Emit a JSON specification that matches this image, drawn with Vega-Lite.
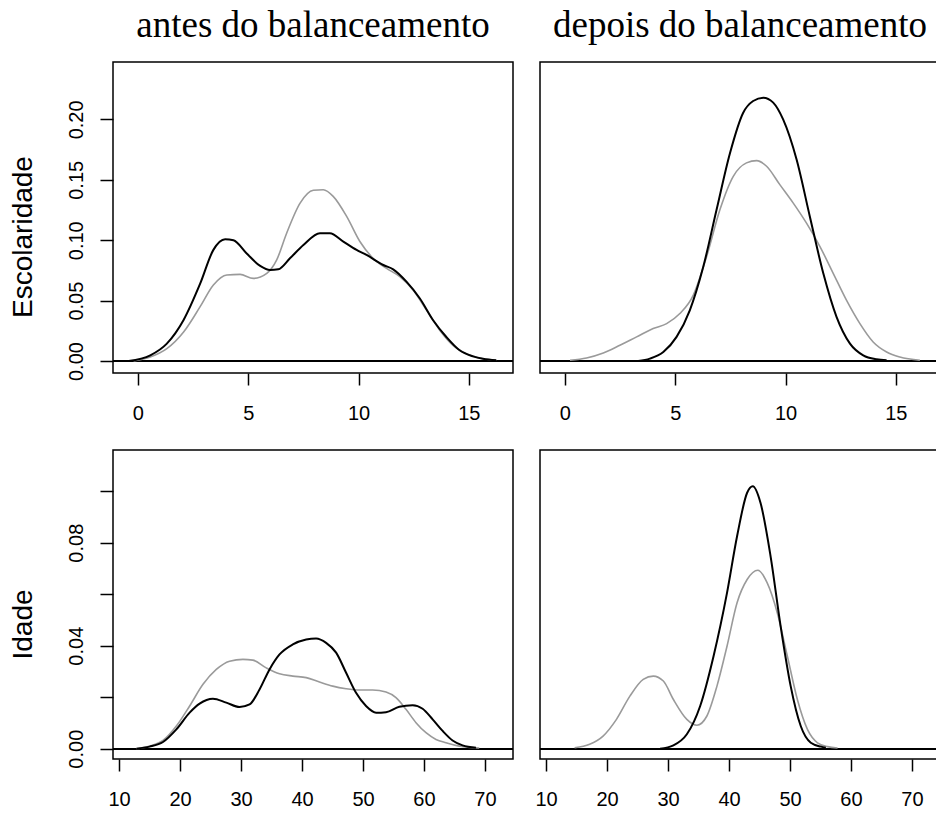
{
  "$schema": "https://vega.github.io/schema/vega-lite/v6.json",
  "padding": {"left": 8, "top": 6, "right": -5, "bottom": 0},
  "background": "white",
  "config": {
    "view": {"stroke": "black", "strokeWidth": 1.5},
    "axis": {"domain": false, "grid": false, "tickColor": "black", "tickWidth": 1.5, "tickSize": 12,
      "labelFont": "Liberation Sans", "labelFontSize": 20, "labelColor": "black", "labelOverlap": false, "labelFlush": false,
      "titleFont": "Liberation Sans", "titleFontWeight": "normal", "titleFontSize": 28, "titleColor": "black"},
    "title": {"font": "Liberation Serif", "fontSize": 37, "fontWeight": "normal", "color": "black"}
  },
  "datasets": {
    "d": [
      {"p": "esc_antes", "g": "tratados", "x": -0.42, "y": 0},
      {"p": "esc_antes", "g": "tratados", "x": 0.56, "y": 0.0047},
      {"p": "esc_antes", "g": "tratados", "x": 1.31, "y": 0.0144},
      {"p": "esc_antes", "g": "tratados", "x": 2.07, "y": 0.034},
      {"p": "esc_antes", "g": "tratados", "x": 2.82, "y": 0.064},
      {"p": "esc_antes", "g": "tratados", "x": 3.42, "y": 0.092},
      {"p": "esc_antes", "g": "tratados", "x": 3.95, "y": 0.1008},
      {"p": "esc_antes", "g": "tratados", "x": 4.33, "y": 0.1},
      {"p": "esc_antes", "g": "tratados", "x": 4.93, "y": 0.089},
      {"p": "esc_antes", "g": "tratados", "x": 5.54, "y": 0.0787},
      {"p": "esc_antes", "g": "tratados", "x": 5.99, "y": 0.0753},
      {"p": "esc_antes", "g": "tratados", "x": 6.36, "y": 0.0759},
      {"p": "esc_antes", "g": "tratados", "x": 6.89, "y": 0.085},
      {"p": "esc_antes", "g": "tratados", "x": 7.5, "y": 0.096},
      {"p": "esc_antes", "g": "tratados", "x": 8.25, "y": 0.1058},
      {"p": "esc_antes", "g": "tratados", "x": 8.7, "y": 0.1058},
      {"p": "esc_antes", "g": "tratados", "x": 9.31, "y": 0.0989},
      {"p": "esc_antes", "g": "tratados", "x": 9.91, "y": 0.092},
      {"p": "esc_antes", "g": "tratados", "x": 10.36, "y": 0.0878},
      {"p": "esc_antes", "g": "tratados", "x": 11.12, "y": 0.0795},
      {"p": "esc_antes", "g": "tratados", "x": 11.57, "y": 0.0759},
      {"p": "esc_antes", "g": "tratados", "x": 12.17, "y": 0.0657},
      {"p": "esc_antes", "g": "tratados", "x": 12.78, "y": 0.0518},
      {"p": "esc_antes", "g": "tratados", "x": 13.38, "y": 0.0338},
      {"p": "esc_antes", "g": "tratados", "x": 13.98, "y": 0.0199},
      {"p": "esc_antes", "g": "tratados", "x": 14.58, "y": 0.0089},
      {"p": "esc_antes", "g": "tratados", "x": 15.19, "y": 0.0039},
      {"p": "esc_antes", "g": "tratados", "x": 15.64, "y": 0.0019},
      {"p": "esc_antes", "g": "tratados", "x": 16.24, "y": 0.0006},

      {"p": "esc_antes", "g": "controles", "x": -0.2, "y": 0},
      {"p": "esc_antes", "g": "controles", "x": 0.56, "y": 0.0033},
      {"p": "esc_antes", "g": "controles", "x": 1.31, "y": 0.0102},
      {"p": "esc_antes", "g": "controles", "x": 2.07, "y": 0.024},
      {"p": "esc_antes", "g": "controles", "x": 2.82, "y": 0.045},
      {"p": "esc_antes", "g": "controles", "x": 3.42, "y": 0.0629},
      {"p": "esc_antes", "g": "controles", "x": 4.03, "y": 0.0712},
      {"p": "esc_antes", "g": "controles", "x": 4.63, "y": 0.0717},
      {"p": "esc_antes", "g": "controles", "x": 5.23, "y": 0.0684},
      {"p": "esc_antes", "g": "controles", "x": 5.84, "y": 0.0726},
      {"p": "esc_antes", "g": "controles", "x": 6.29, "y": 0.0837},
      {"p": "esc_antes", "g": "controles", "x": 6.74, "y": 0.1058},
      {"p": "esc_antes", "g": "controles", "x": 7.35, "y": 0.1307},
      {"p": "esc_antes", "g": "controles", "x": 7.95, "y": 0.1413},
      {"p": "esc_antes", "g": "controles", "x": 8.4, "y": 0.1418},
      {"p": "esc_antes", "g": "controles", "x": 8.85, "y": 0.1363},
      {"p": "esc_antes", "g": "controles", "x": 9.46, "y": 0.1197},
      {"p": "esc_antes", "g": "controles", "x": 10.06, "y": 0.0989},
      {"p": "esc_antes", "g": "controles", "x": 10.66, "y": 0.085},
      {"p": "esc_antes", "g": "controles", "x": 11.27, "y": 0.0767},
      {"p": "esc_antes", "g": "controles", "x": 11.87, "y": 0.0698},
      {"p": "esc_antes", "g": "controles", "x": 12.47, "y": 0.0587},
      {"p": "esc_antes", "g": "controles", "x": 13.08, "y": 0.0421},
      {"p": "esc_antes", "g": "controles", "x": 13.68, "y": 0.0255},
      {"p": "esc_antes", "g": "controles", "x": 14.28, "y": 0.013},
      {"p": "esc_antes", "g": "controles", "x": 14.89, "y": 0.0061},
      {"p": "esc_antes", "g": "controles", "x": 15.49, "y": 0.0025},
      {"p": "esc_antes", "g": "controles", "x": 16.24, "y": 0.0006},

      {"p": "esc_depois", "g": "tratados", "x": 3.32, "y": 0},
      {"p": "esc_depois", "g": "tratados", "x": 3.85, "y": 0.002},
      {"p": "esc_depois", "g": "tratados", "x": 4.46, "y": 0.0075},
      {"p": "esc_depois", "g": "tratados", "x": 5.06, "y": 0.02},
      {"p": "esc_depois", "g": "tratados", "x": 5.66, "y": 0.042},
      {"p": "esc_depois", "g": "tratados", "x": 6.27, "y": 0.078},
      {"p": "esc_depois", "g": "tratados", "x": 6.87, "y": 0.125},
      {"p": "esc_depois", "g": "tratados", "x": 7.48, "y": 0.172},
      {"p": "esc_depois", "g": "tratados", "x": 8.08, "y": 0.2055},
      {"p": "esc_depois", "g": "tratados", "x": 8.53, "y": 0.2152},
      {"p": "esc_depois", "g": "tratados", "x": 8.99, "y": 0.218},
      {"p": "esc_depois", "g": "tratados", "x": 9.44, "y": 0.2139},
      {"p": "esc_depois", "g": "tratados", "x": 9.89, "y": 0.2},
      {"p": "esc_depois", "g": "tratados", "x": 10.5, "y": 0.1668},
      {"p": "esc_depois", "g": "tratados", "x": 11.1, "y": 0.1197},
      {"p": "esc_depois", "g": "tratados", "x": 11.71, "y": 0.0726},
      {"p": "esc_depois", "g": "tratados", "x": 12.31, "y": 0.0366},
      {"p": "esc_depois", "g": "tratados", "x": 12.92, "y": 0.0144},
      {"p": "esc_depois", "g": "tratados", "x": 13.52, "y": 0.0047},
      {"p": "esc_depois", "g": "tratados", "x": 14.12, "y": 0.0014},
      {"p": "esc_depois", "g": "tratados", "x": 14.58, "y": 0.0006},

      {"p": "esc_depois", "g": "controles", "x": 0.23, "y": 0.0006},
      {"p": "esc_depois", "g": "controles", "x": 0.98, "y": 0.0025},
      {"p": "esc_depois", "g": "controles", "x": 1.74, "y": 0.0066},
      {"p": "esc_depois", "g": "controles", "x": 2.49, "y": 0.013},
      {"p": "esc_depois", "g": "controles", "x": 3.25, "y": 0.02},
      {"p": "esc_depois", "g": "controles", "x": 4.0, "y": 0.0269},
      {"p": "esc_depois", "g": "controles", "x": 4.61, "y": 0.031},
      {"p": "esc_depois", "g": "controles", "x": 5.21, "y": 0.0393},
      {"p": "esc_depois", "g": "controles", "x": 5.82, "y": 0.0546},
      {"p": "esc_depois", "g": "controles", "x": 6.42, "y": 0.0864},
      {"p": "esc_depois", "g": "controles", "x": 7.02, "y": 0.125},
      {"p": "esc_depois", "g": "controles", "x": 7.63, "y": 0.1529},
      {"p": "esc_depois", "g": "controles", "x": 8.23, "y": 0.164},
      {"p": "esc_depois", "g": "controles", "x": 8.69, "y": 0.1659},
      {"p": "esc_depois", "g": "controles", "x": 9.14, "y": 0.1612},
      {"p": "esc_depois", "g": "controles", "x": 9.74, "y": 0.146},
      {"p": "esc_depois", "g": "controles", "x": 10.35, "y": 0.1307},
      {"p": "esc_depois", "g": "controles", "x": 10.95, "y": 0.1141},
      {"p": "esc_depois", "g": "controles", "x": 11.56, "y": 0.0947},
      {"p": "esc_depois", "g": "controles", "x": 12.16, "y": 0.0726},
      {"p": "esc_depois", "g": "controles", "x": 12.76, "y": 0.0504},
      {"p": "esc_depois", "g": "controles", "x": 13.37, "y": 0.031},
      {"p": "esc_depois", "g": "controles", "x": 13.97, "y": 0.0158},
      {"p": "esc_depois", "g": "controles", "x": 14.58, "y": 0.0075},
      {"p": "esc_depois", "g": "controles", "x": 15.18, "y": 0.0033},
      {"p": "esc_depois", "g": "controles", "x": 16.09, "y": 0.0006},

      {"p": "ida_antes", "g": "tratados", "x": 12.84, "y": 0},
      {"p": "ida_antes", "g": "tratados", "x": 15.02, "y": 0.0008},
      {"p": "ida_antes", "g": "tratados", "x": 17.2, "y": 0.0026},
      {"p": "ida_antes", "g": "tratados", "x": 19.39, "y": 0.0075},
      {"p": "ida_antes", "g": "tratados", "x": 21.57, "y": 0.014},
      {"p": "ida_antes", "g": "tratados", "x": 23.21, "y": 0.0175},
      {"p": "ida_antes", "g": "tratados", "x": 25.39, "y": 0.0194},
      {"p": "ida_antes", "g": "tratados", "x": 27.58, "y": 0.0179},
      {"p": "ida_antes", "g": "tratados", "x": 29.76, "y": 0.0162},
      {"p": "ida_antes", "g": "tratados", "x": 31.4, "y": 0.0172},
      {"p": "ida_antes", "g": "tratados", "x": 33.03, "y": 0.023},
      {"p": "ida_antes", "g": "tratados", "x": 34.67, "y": 0.0308},
      {"p": "ida_antes", "g": "tratados", "x": 36.31, "y": 0.0366},
      {"p": "ida_antes", "g": "tratados", "x": 38.49, "y": 0.0405},
      {"p": "ida_antes", "g": "tratados", "x": 40.68, "y": 0.0424},
      {"p": "ida_antes", "g": "tratados", "x": 42.31, "y": 0.0428},
      {"p": "ida_antes", "g": "tratados", "x": 43.95, "y": 0.0411},
      {"p": "ida_antes", "g": "tratados", "x": 45.59, "y": 0.0373},
      {"p": "ida_antes", "g": "tratados", "x": 47.23, "y": 0.0295},
      {"p": "ida_antes", "g": "tratados", "x": 48.86, "y": 0.0217},
      {"p": "ida_antes", "g": "tratados", "x": 50.5, "y": 0.0166},
      {"p": "ida_antes", "g": "tratados", "x": 52.14, "y": 0.014},
      {"p": "ida_antes", "g": "tratados", "x": 53.78, "y": 0.0142},
      {"p": "ida_antes", "g": "tratados", "x": 55.96, "y": 0.0163},
      {"p": "ida_antes", "g": "tratados", "x": 58.14, "y": 0.0169},
      {"p": "ida_antes", "g": "tratados", "x": 59.78, "y": 0.0155},
      {"p": "ida_antes", "g": "tratados", "x": 61.42, "y": 0.0114},
      {"p": "ida_antes", "g": "tratados", "x": 63.06, "y": 0.0069},
      {"p": "ida_antes", "g": "tratados", "x": 64.69, "y": 0.0032},
      {"p": "ida_antes", "g": "tratados", "x": 66.33, "y": 0.0013},
      {"p": "ida_antes", "g": "tratados", "x": 68.52, "y": 0.0004},

      {"p": "ida_antes", "g": "controles", "x": 12.84, "y": 0},
      {"p": "ida_antes", "g": "controles", "x": 15.02, "y": 0.001},
      {"p": "ida_antes", "g": "controles", "x": 17.2, "y": 0.0032},
      {"p": "ida_antes", "g": "controles", "x": 19.39, "y": 0.0088},
      {"p": "ida_antes", "g": "controles", "x": 21.57, "y": 0.0166},
      {"p": "ida_antes", "g": "controles", "x": 23.76, "y": 0.025},
      {"p": "ida_antes", "g": "controles", "x": 25.94, "y": 0.0308},
      {"p": "ida_antes", "g": "controles", "x": 28.12, "y": 0.034},
      {"p": "ida_antes", "g": "controles", "x": 30.31, "y": 0.0347},
      {"p": "ida_antes", "g": "controles", "x": 31.94, "y": 0.0344},
      {"p": "ida_antes", "g": "controles", "x": 34.13, "y": 0.0314},
      {"p": "ida_antes", "g": "controles", "x": 36.31, "y": 0.0291},
      {"p": "ida_antes", "g": "controles", "x": 38.49, "y": 0.0282},
      {"p": "ida_antes", "g": "controles", "x": 40.68, "y": 0.0276},
      {"p": "ida_antes", "g": "controles", "x": 42.86, "y": 0.0259},
      {"p": "ida_antes", "g": "controles", "x": 45.04, "y": 0.0243},
      {"p": "ida_antes", "g": "controles", "x": 47.23, "y": 0.0233},
      {"p": "ida_antes", "g": "controles", "x": 49.41, "y": 0.0228},
      {"p": "ida_antes", "g": "controles", "x": 51.59, "y": 0.0228},
      {"p": "ida_antes", "g": "controles", "x": 53.78, "y": 0.022},
      {"p": "ida_antes", "g": "controles", "x": 55.41, "y": 0.0198},
      {"p": "ida_antes", "g": "controles", "x": 57.05, "y": 0.0153},
      {"p": "ida_antes", "g": "controles", "x": 58.69, "y": 0.0101},
      {"p": "ida_antes", "g": "controles", "x": 60.33, "y": 0.0062},
      {"p": "ida_antes", "g": "controles", "x": 61.97, "y": 0.0036},
      {"p": "ida_antes", "g": "controles", "x": 63.6, "y": 0.0023},
      {"p": "ida_antes", "g": "controles", "x": 65.79, "y": 0.001},
      {"p": "ida_antes", "g": "controles", "x": 69.06, "y": 0.0003},

      {"p": "ida_depois", "g": "tratados", "x": 28.68, "y": 0},
      {"p": "ida_depois", "g": "tratados", "x": 30.88, "y": 0.0013},
      {"p": "ida_depois", "g": "tratados", "x": 33.08, "y": 0.0056},
      {"p": "ida_depois", "g": "tratados", "x": 35.27, "y": 0.0166},
      {"p": "ida_depois", "g": "tratados", "x": 37.47, "y": 0.036},
      {"p": "ida_depois", "g": "tratados", "x": 39.67, "y": 0.0605},
      {"p": "ida_depois", "g": "tratados", "x": 41.32, "y": 0.0825},
      {"p": "ida_depois", "g": "tratados", "x": 42.97, "y": 0.0994},
      {"p": "ida_depois", "g": "tratados", "x": 43.9, "y": 0.1019},
      {"p": "ida_depois", "g": "tratados", "x": 45.16, "y": 0.0955},
      {"p": "ida_depois", "g": "tratados", "x": 46.81, "y": 0.0748},
      {"p": "ida_depois", "g": "tratados", "x": 48.46, "y": 0.0476},
      {"p": "ida_depois", "g": "tratados", "x": 50.11, "y": 0.0243},
      {"p": "ida_depois", "g": "tratados", "x": 51.76, "y": 0.0088},
      {"p": "ida_depois", "g": "tratados", "x": 53.41, "y": 0.0023},
      {"p": "ida_depois", "g": "tratados", "x": 55.05, "y": 0.0008},
      {"p": "ida_depois", "g": "tratados", "x": 55.88, "y": 0.0004},

      {"p": "ida_depois", "g": "controles", "x": 14.67, "y": 0.0004},
      {"p": "ida_depois", "g": "controles", "x": 17.14, "y": 0.0017},
      {"p": "ida_depois", "g": "controles", "x": 19.34, "y": 0.0049},
      {"p": "ida_depois", "g": "controles", "x": 21.54, "y": 0.0114},
      {"p": "ida_depois", "g": "controles", "x": 23.74, "y": 0.0204},
      {"p": "ida_depois", "g": "controles", "x": 25.93, "y": 0.0269},
      {"p": "ida_depois", "g": "controles", "x": 27.58, "y": 0.0282},
      {"p": "ida_depois", "g": "controles", "x": 29.23, "y": 0.0263},
      {"p": "ida_depois", "g": "controles", "x": 30.88, "y": 0.0191},
      {"p": "ida_depois", "g": "controles", "x": 33.08, "y": 0.0114},
      {"p": "ida_depois", "g": "controles", "x": 34.73, "y": 0.0091},
      {"p": "ida_depois", "g": "controles", "x": 36.37, "y": 0.0127},
      {"p": "ida_depois", "g": "controles", "x": 38.02, "y": 0.0243},
      {"p": "ida_depois", "g": "controles", "x": 39.67, "y": 0.0398},
      {"p": "ida_depois", "g": "controles", "x": 41.32, "y": 0.0567},
      {"p": "ida_depois", "g": "controles", "x": 42.97, "y": 0.0657},
      {"p": "ida_depois", "g": "controles", "x": 44.73, "y": 0.0693},
      {"p": "ida_depois", "g": "controles", "x": 46.26, "y": 0.0644},
      {"p": "ida_depois", "g": "controles", "x": 47.91, "y": 0.0528},
      {"p": "ida_depois", "g": "controles", "x": 49.56, "y": 0.036},
      {"p": "ida_depois", "g": "controles", "x": 51.21, "y": 0.0191},
      {"p": "ida_depois", "g": "controles", "x": 52.86, "y": 0.0075},
      {"p": "ida_depois", "g": "controles", "x": 54.51, "y": 0.0023},
      {"p": "ida_depois", "g": "controles", "x": 56.15, "y": 0.0008},
      {"p": "ida_depois", "g": "controles", "x": 57.8, "y": 0.0003}
    ]
  },
  "columns": 2,
  "bounds": "flush",
  "align": "all",
  "spacing": {"row": 77, "column": 27},
  "concat": [
    {
      "width": 400, "height": 311,
      "title": {"text": "antes do balanceamento", "anchor": "middle", "baseline": "alphabetic", "frame": "group", "offset": -12},
      "data": {"name": "d"},
      "transform": [{"filter": "datum.p == 'esc_antes'"}],
      "layer": [
        {"mark": {"type": "rule", "color": "black", "strokeWidth": 1.5}, "encoding": {"y": {"datum": 0}}},
        {"transform": [{"filter": "datum.g == 'controles'"}],
         "mark": {"type": "line", "color": "#9a9a9a", "strokeWidth": 1.6, "interpolate": "monotone"},
         "encoding": {
           "x": {"field": "x", "type": "quantitative", "scale": {"domain": [-1.13, 17.0], "nice": false, "zero": false},
                 "axis": {"title": null, "values": [0, 5, 10, 15], "labelBaseline": "alphabetic", "labelPadding": 34}},
           "y": {"field": "y", "type": "quantitative", "scale": {"domain": [-0.0099, 0.2475], "nice": false, "zero": false},
                 "axis": {"title": "Escolaridade", "values": [0, 0.05, 0.1, 0.15, 0.2], "format": ".2f", "tickSize": 13,
                          "labelAngle": -90, "labelAlign": "center", "labelBaseline": "alphabetic", "labelPadding": 18,
                          "titleAngle": -90, "titleAlign": "center", "titleBaseline": "alphabetic", "titleX": -82, "titleY": 174.5}}
         }},
        {"transform": [{"filter": "datum.g == 'tratados'"}],
         "mark": {"type": "line", "color": "black", "strokeWidth": 2, "interpolate": "monotone"},
         "encoding": {"x": {"field": "x", "type": "quantitative"}, "y": {"field": "y", "type": "quantitative"}}}
      ]
    },
    {
      "width": 400, "height": 311,
      "title": {"text": "depois do balanceamento", "anchor": "middle", "baseline": "alphabetic", "frame": "group", "offset": -12},
      "data": {"name": "d"},
      "transform": [{"filter": "datum.p == 'esc_depois'"}],
      "layer": [
        {"mark": {"type": "rule", "color": "black", "strokeWidth": 1.5}, "encoding": {"y": {"datum": 0, "axis": null}}},
        {"transform": [{"filter": "datum.g == 'controles'"}],
         "mark": {"type": "line", "color": "#9a9a9a", "strokeWidth": 1.6, "interpolate": "monotone"},
         "encoding": {
           "x": {"field": "x", "type": "quantitative", "scale": {"domain": [-1.13, 17.0], "nice": false, "zero": false},
                 "axis": {"title": null, "values": [0, 5, 10, 15], "labelBaseline": "alphabetic", "labelPadding": 34}},
           "y": {"field": "y", "type": "quantitative", "scale": {"domain": [-0.0099, 0.2475], "nice": false, "zero": false}, "axis": null}
         }},
        {"transform": [{"filter": "datum.g == 'tratados'"}],
         "mark": {"type": "line", "color": "black", "strokeWidth": 2, "interpolate": "monotone"},
         "encoding": {"x": {"field": "x", "type": "quantitative"}, "y": {"field": "y", "type": "quantitative", "axis": null}}}
      ]
    },
    {
      "width": 400, "height": 309,
      "data": {"name": "d"},
      "transform": [{"filter": "datum.p == 'ida_antes'"}],
      "layer": [
        {"mark": {"type": "rule", "color": "black", "strokeWidth": 1.5}, "encoding": {"y": {"datum": 0}}},
        {"transform": [{"filter": "datum.g == 'controles'"}],
         "mark": {"type": "line", "color": "#9a9a9a", "strokeWidth": 1.6, "interpolate": "monotone"},
         "encoding": {
           "x": {"field": "x", "type": "quantitative", "scale": {"domain": [9.0, 74.6], "nice": false, "zero": false},
                 "axis": {"title": null, "values": [10, 20, 30, 40, 50, 60, 70], "labelBaseline": "alphabetic", "labelPadding": 34}},
           "y": {"field": "y", "type": "quantitative", "scale": {"domain": [-0.004, 0.116], "nice": false, "zero": false},
                 "axis": {"title": "Idade", "values": [0, 0.02, 0.04, 0.06, 0.08, 0.1], "tickSize": 13,
                          "labelExpr": "round(datum.value * 100) % 4 == 0 ? format(datum.value, '.2f') : ''",
                          "labelAngle": -90, "labelAlign": "center", "labelBaseline": "alphabetic", "labelPadding": 18,
                          "titleAngle": -90, "titleAlign": "center", "titleBaseline": "alphabetic", "titleX": -82, "titleY": 174}}
         }},
        {"transform": [{"filter": "datum.g == 'tratados'"}],
         "mark": {"type": "line", "color": "black", "strokeWidth": 2, "interpolate": "monotone"},
         "encoding": {"x": {"field": "x", "type": "quantitative"}, "y": {"field": "y", "type": "quantitative"}}}
      ]
    },
    {
      "width": 400, "height": 309,
      "data": {"name": "d"},
      "transform": [{"filter": "datum.p == 'ida_depois'"}],
      "layer": [
        {"mark": {"type": "rule", "color": "black", "strokeWidth": 1.5}, "encoding": {"y": {"datum": 0, "axis": null}}},
        {"transform": [{"filter": "datum.g == 'controles'"}],
         "mark": {"type": "line", "color": "#9a9a9a", "strokeWidth": 1.6, "interpolate": "monotone"},
         "encoding": {
           "x": {"field": "x", "type": "quantitative", "scale": {"domain": [9.0, 74.6], "nice": false, "zero": false},
                 "axis": {"title": null, "values": [10, 20, 30, 40, 50, 60, 70], "labelBaseline": "alphabetic", "labelPadding": 34}},
           "y": {"field": "y", "type": "quantitative", "scale": {"domain": [-0.004, 0.116], "nice": false, "zero": false}, "axis": null}
         }},
        {"transform": [{"filter": "datum.g == 'tratados'"}],
         "mark": {"type": "line", "color": "black", "strokeWidth": 2, "interpolate": "monotone"},
         "encoding": {"x": {"field": "x", "type": "quantitative"}, "y": {"field": "y", "type": "quantitative", "axis": null}}}
      ]
    }
  ]
}
